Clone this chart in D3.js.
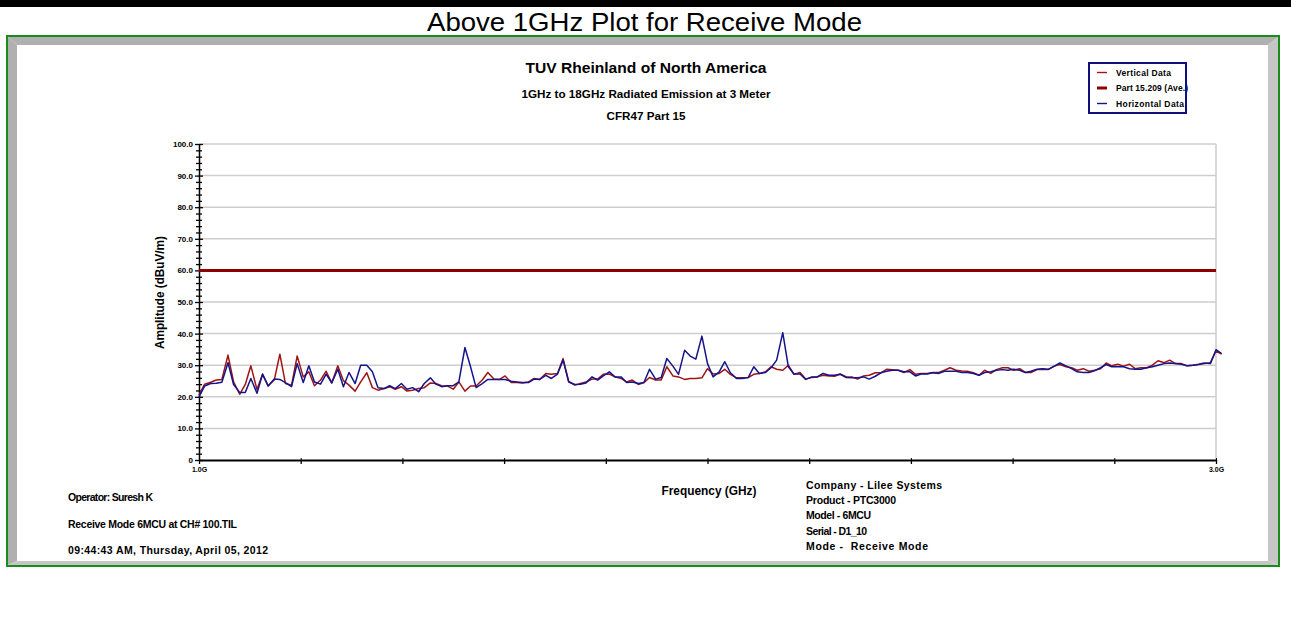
<!DOCTYPE html>
<html>
<head>
<meta charset="utf-8">
<script src="https://cdn.jsdelivr.net/npm/d3@7"></script>
<style>
  html, body { margin: 0; padding: 0; background: #fff; }
  svg { display: block; font-family: "Liberation Sans", Arial, sans-serif; }
</style>
</head>
<body>
<svg id="chart" width="1291" height="627"></svg>
<script>
// Sweep frequencies (MHz), 1 GHz to 3 GHz
const freqMHz = [
  1000,1011,1023,1034,1045,1057,1068,1080,1091,1102,1114,1125,1136,1148,1159,1170,1182,1193,1205,1216,
  1227,1239,1250,1261,1273,1284,1295,1307,1318,1330,1341,1352,1364,1375,1386,1398,1409,1420,1432,1443,
  1455,1466,1477,1489,1500,1511,1523,1534,1545,1557,1568,1580,1591,1602,1614,1625,1636,1648,1659,1670,
  1682,1693,1705,1716,1727,1739,1750,1761,1773,1784,1795,1807,1818,1830,1841,1852,1864,1875,1886,1898,
  1909,1920,1932,1943,1955,1966,1977,1989,2000,2011,2023,2034,2045,2057,2068,2080,2091,2102,2114,2125,
  2136,2148,2159,2170,2182,2193,2205,2216,2227,2239,2250,2261,2273,2284,2295,2307,2318,2330,2341,2352,
  2364,2375,2386,2398,2409,2420,2432,2443,2455,2466,2477,2489,2500,2511,2523,2534,2545,2557,2568,2580,
  2591,2602,2614,2625,2636,2648,2659,2670,2682,2693,2705,2716,2727,2739,2750,2761,2773,2784,2795,2807,
  2818,2830,2841,2852,2864,2875,2886,2898,2909,2920,2932,2943,2955,2966,2977,2989,3000,3011
];

// Vertical polarisation amplitude (dBuV/m)
const verticalData = [
  20.5,24,24.6,25.3,25.5,33.2,24.7,20.8,23.9,29.8,
  22.3,27.2,23.5,25.3,33.5,24.2,23.7,32.9,26.3,27.9,
  23.5,25.3,28.1,24.4,29.8,25.1,23.7,21.8,24.7,27.6,
  22.9,22.1,22.6,23.2,22.4,23.2,21.8,22.1,22.6,22.9,
  24.4,24.2,23.5,23.4,22.4,24.7,21.8,23.4,23.4,25.3,
  27.7,25.6,25.5,26.6,24.5,24.5,24.4,24.7,
  25.8,25.5,27.4,27.1,27.4,32.1,24.9,23.7,24.2,24.7,
  25.6,25.6,27.1,27.2,26.3,25.8,24.7,25.3,23.9,24.5,
  26.1,25.3,25.3,29.5,26.6,26.3,25.5,25.8,25.8,26,
  28.9,27.2,27.4,28.7,27.1,26,26,26.1,27.1,27.4,
  27.9,29.5,28.7,28.4,30,27.1,27.7,25.6,26.1,26.3,
  26.8,26.6,26.5,27.2,26.3,26.3,25.6,26.6,26.8,
  27.6,27.6,28.7,28.6,28.4,27.7,28.6,27.1,27.4,27.4,
  27.7,27.7,28.4,29.2,28.4,28.2,28.1,27.6,26.8,28.4,
  27.4,28.6,29.2,29.2,28.4,28.9,27.7,27.7,28.6,28.7,
  28.6,29.7,30.2,29.5,29.2,28.4,28.9,28.1,28.4,28.9,
  30.7,29.8,30.3,29.7,30.3,28.9,29.2,29.2,30,31.4,
  30.8,31.6,30.5,30.5,29.8,30,30.2,30.5,30.8,34.5,
  33.5
];

// Horizontal polarisation amplitude (dBuV/m)
const horizontalData = [
  20,23.4,24.2,24.3,24.6,30.8,23.9,21.4,21.4,25.8,
  21.1,27.1,23.4,25.6,25.5,24.5,23.2,30.5,24.5,29.8,
  24.7,24,27.2,24.4,28.7,23.2,27.7,24.2,30,30,
  27.9,22.9,22.6,23.5,22.6,24.2,22.4,22.9,21.6,24.2,
  26,24,23.2,23.5,23.5,24.7,35.6,29.5,22.9,24.2,
  25.5,25.5,25.5,25.5,24.9,24.7,24.5,24.5,
  25.6,25.5,26.8,25.8,27.2,31.6,24.7,23.9,24,24.4,
  26.3,25.3,26.6,27.9,26.3,26.3,24.5,24.7,24.2,24.5,
  28.7,25.6,26.1,32.1,29.7,27.1,34.7,32.9,31.9,39.2,
  30.5,26.3,27.9,31.1,27.6,25.8,25.8,26.1,29.5,27.4,
  27.7,29.2,31.6,40.3,29.5,27.2,27.2,25.5,26.3,26.3,
  27.4,26.8,26.8,27.1,26.1,26,26,26.3,25.6,
  26.5,27.6,28.1,28.4,28.4,27.9,27.9,26.6,27.2,27.2,
  27.6,27.4,28.1,28.1,28.1,27.7,27.7,27.4,26.8,27.7,
  27.9,28.4,28.6,28.4,28.7,28.4,27.7,28.1,28.7,28.9,
  28.7,29.7,30.7,29.8,28.9,27.9,27.7,27.7,28.2,29.2,
  30.2,29.5,29.5,29.5,28.9,28.7,28.7,29.2,29.5,30,
  30.5,30.7,30.5,30.3,29.8,30,30.3,30.7,30.5,34.9,
  33.7
];

// FCC Part 15.209 average limit
const limitFreqMHz = [1000, 3000];
const limitValues = [60, 60];

const yMajorTicks = [0,10,20,30,40,50,60,70,80,90,100];
const yMinorTicks = [2,4,6,8,12,14,16,18,22,24,26,28,32,34,36,38,42,44,46,48,52,54,56,58,62,64,66,68,72,74,76,78,82,84,86,88,92,94,96,98];
const xTicksMHz = [1000,1200,1400,1600,1800,2000,2200,2400,2600,2800,3000];
const xTickLabels = {1000: "1.0G", 3000: "3.0G"};

const legendLabels = ["Vertical Data", "Part 15.209 (Ave.)", "Horizontal Data"];
const headerLines = ["TUV Rheinland of North America", "1GHz to 18GHz Radiated Emission at 3 Meter", "CFR47 Part 15"];
const leftNotes = ["Operator: Suresh K", "Receive Mode 6MCU at CH# 100.TIL", "09:44:43 AM, Thursday, April 05, 2012"];
const rightNotes = ["Company - Lilee Systems", "Product - PTC3000", "Model - 6MCU", "Serial - D1_10", "Mode -  Receive Mode"];

// Styling / layout
const colors = { vertical: "#a01414", limit: "#8c0000", horizontal: "#14148c" };
const legendStyle = [
  { color: colors.vertical, width: 1.4, textWidth: 55 },
  { color: colors.limit, width: 3, textWidth: 72 },
  { color: colors.horizontal, width: 1.4, textWidth: 68 }
];
const headerLayout = [
  { y: 73, size: 15.5, w: 241 },
  { y: 98, size: 11, w: 249 },
  { y: 120, size: 11, w: 79 }
];
const leftNoteWidths = [85, 169, 200];
const rightNoteWidths = [136, 90, 65, 61, 122];

const svg = d3.select("#chart");

function fitText(sel, w, mode) {
  return sel.attr("textLength", w).attr("lengthAdjust", mode || "spacingAndGlyphs");
}

// Page banner
svg.append("rect").attr("x", 0).attr("y", 0).attr("width", 1291).attr("height", 7).attr("fill", "#000");
fitText(svg.append("text").attr("x", 644.5).attr("y", 31).attr("text-anchor", "middle")
  .attr("font-size", 25).attr("fill", "#000").text("Above 1GHz Plot for Receive Mode"), 435);

// Framed panel with bevelled edges
svg.append("rect").attr("x", 7).attr("y", 36).attr("width", 1272).attr("height", 530)
  .attr("fill", "#fff").attr("stroke", "#1a8c1a").attr("stroke-width", 2);
svg.append("polygon").attr("points", "8,37 1278,37 1268,45 17,45").attr("fill", "#b0b0b0");
svg.append("polygon").attr("points", "8,37 17,45 17,561 8,565").attr("fill", "#b0b0b0");
svg.append("polygon").attr("points", "1278,37 1268,45 1268,561 1278,565").attr("fill", "#c6c6c6");
svg.append("polygon").attr("points", "8,565 17,561 1268,561 1278,565").attr("fill", "#c6c6c6");

// Scales
const x = d3.scaleLinear().domain([1000, 3000]).range([199, 1216]);
const y = d3.scaleLinear().domain([0, 100]).range([460, 144]);

// Grid
const plot = svg.append("g");
plot.selectAll("line.grid").data(yMajorTicks.filter(d => d > 0)).join("line")
  .attr("class", "grid")
  .attr("x1", x(1000)).attr("x2", x(3000))
  .attr("y1", d => y(d)).attr("y2", d => y(d))
  .attr("stroke", "#cdcdcd").attr("stroke-width", 1.5);
plot.append("line").attr("x1", x(3000)).attr("x2", x(3000)).attr("y1", y(100)).attr("y2", y(0))
  .attr("stroke", "#cdcdcd").attr("stroke-width", 1.5);

// Y axis: major and minor ticks crossing the axis line
const yAxisL = svg.append("g").attr("transform", `translate(${x(1000)},0)`)
  .call(d3.axisLeft(y).tickValues(yMajorTicks).tickSize(4).tickSizeOuter(0).tickPadding(2)
    .tickFormat(d => d === 0 ? "0" : d.toFixed(1)));
yAxisL.selectAll("text").attr("font-size", 8).attr("font-weight", "bold").attr("fill", "#000");
yAxisL.select(".domain").attr("stroke-width", 1.5);
svg.append("g").attr("transform", `translate(${x(1000)},0)`)
  .call(d3.axisRight(y).tickValues(yMajorTicks).tickSize(4).tickFormat(""))
  .call(g => g.select(".domain").remove());
svg.append("g").attr("transform", `translate(${x(1000)},0)`)
  .call(d3.axisLeft(y).tickValues(yMinorTicks).tickSize(3).tickFormat(""))
  .call(g => g.select(".domain").remove());
svg.append("g").attr("transform", `translate(${x(1000)},0)`)
  .call(d3.axisRight(y).tickValues(yMinorTicks).tickSize(3).tickFormat(""))
  .call(g => g.select(".domain").remove());
svg.selectAll(".tick line").attr("stroke-width", 1.3);

// X axis
const xAxis = svg.append("g").attr("transform", `translate(0,${y(0)})`)
  .call(d3.axisBottom(x).tickValues(xTicksMHz).tickSize(4).tickSizeOuter(0).tickPadding(3)
    .tickFormat(d => xTickLabels[d] || ""));
xAxis.selectAll("text").attr("font-size", 7).attr("font-weight", "bold");
xAxis.select(".domain").attr("stroke-width", 2.2);
xAxis.selectAll(".tick line").attr("stroke-width", 1.3);
svg.append("g").attr("transform", `translate(0,${y(0)})`)
  .call(d3.axisTop(x).tickValues(xTicksMHz).tickSize(2).tickFormat(""))
  .call(g => g.select(".domain").remove());

// Axis titles
fitText(svg.append("text").attr("transform", `translate(164,${y(53)}) rotate(-90)`)
  .attr("text-anchor", "middle").attr("font-size", 12).attr("font-weight", "bold")
  .text("Amplitude (dBuV/m)"), 113);
fitText(svg.append("text").attr("x", 709).attr("y", 495).attr("text-anchor", "middle")
  .attr("font-size", 12).attr("font-weight", "bold").text("Frequency (GHz)"), 95);

// Header
headerLines.forEach((t, i) => {
  const h = headerLayout[i];
  fitText(svg.append("text").attr("x", 646).attr("y", h.y).attr("text-anchor", "middle")
    .attr("font-size", h.size).attr("font-weight", "bold").text(t), h.w);
});

// Traces
const line = d3.line().x(d => x(d[0])).y(d => y(d[1]));
svg.append("path").datum(limitFreqMHz.map((f, i) => [f, limitValues[i]]))
  .attr("d", line).attr("fill", "none").attr("stroke", colors.limit).attr("stroke-width", 3);
svg.append("path").datum(freqMHz.map((f, i) => [f, verticalData[i]]))
  .attr("d", line).attr("fill", "none").attr("stroke", colors.vertical).attr("stroke-width", 1.5)
  .attr("stroke-linejoin", "round");
svg.append("path").datum(freqMHz.map((f, i) => [f, horizontalData[i]]))
  .attr("d", line).attr("fill", "none").attr("stroke", colors.horizontal).attr("stroke-width", 1.5)
  .attr("stroke-linejoin", "round");

// Legend
const legend = svg.append("g");
legendLabels.forEach((label, i) => {
  const s = legendStyle[i];
  const ly = 72.5 + i * 15.5;
  legend.append("line").attr("x1", 1097).attr("x2", 1107).attr("y1", ly).attr("y2", ly)
    .attr("stroke", s.color).attr("stroke-width", s.width);
  fitText(legend.append("text").attr("x", 1116).attr("y", ly + 3).attr("font-size", 8.5)
    .attr("font-weight", "bold").text(label), s.textWidth, "spacing");
});
legend.append("rect").attr("x", 1089).attr("y", 63).attr("width", 97).attr("height", 50)
  .attr("fill", "none").attr("stroke", "#10107c").attr("stroke-width", 2);

// Footer notes
leftNotes.forEach((t, i) => {
  fitText(svg.append("text").attr("x", 68).attr("y", 501 + i * 26.5).attr("font-size", 10.5)
    .attr("font-weight", "bold").style("white-space", "pre").text(t), leftNoteWidths[i], "spacing");
});
rightNotes.forEach((t, i) => {
  fitText(svg.append("text").attr("x", 806).attr("y", 489 + i * 15.2).attr("font-size", 10.5)
    .attr("font-weight", "bold").style("white-space", "pre").text(t), rightNoteWidths[i], "spacing");
});
</script>
</body>
</html>
